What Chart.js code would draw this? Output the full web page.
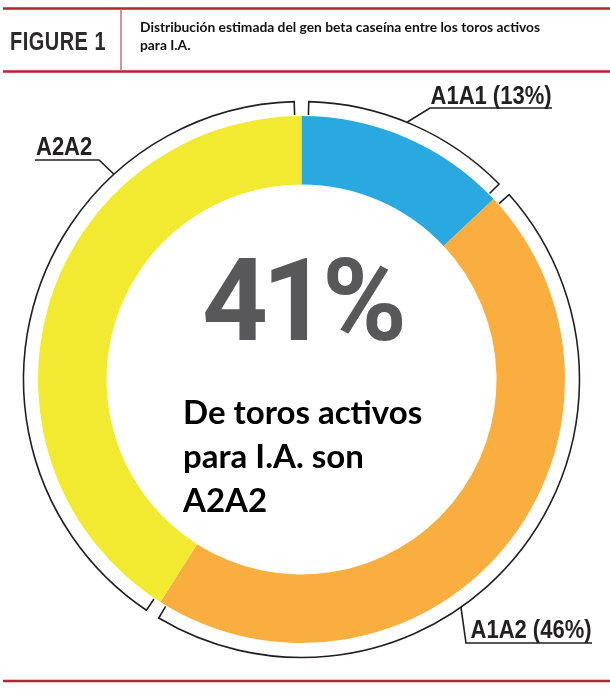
<!DOCTYPE html>
<html>
<head>
<meta charset="utf-8">
<script src="https://cdn.jsdelivr.net/npm/chart.js@4/dist/chart.umd.min.js"></script>
<style>
  html, body { margin:0; padding:0; background:#fff; }
  #wrap { position:relative; width:610px; height:690px; overflow:hidden; background:#fff; }
  #c { position:absolute; left:0; top:0; }
  .t { position:absolute; white-space:nowrap; }
  .lbl { font-family:'Liberation Sans',Arial,sans-serif; font-weight:700; font-size:25px; line-height:25px; color:#231f20; transform:scaleX(0.88); }
  #fig { left:10px; top:29px; font-family:'Liberation Sans',Arial,sans-serif; font-weight:700; font-size:25px; line-height:25px; color:#2d2a2b; transform:scaleX(0.8); transform-origin:left center; letter-spacing:0.6px; }
  #title { left:140px; top:18px; font-family:Lato,'Open Sans',sans-serif; font-weight:700; font-size:13.8px; line-height:18px; color:#111; white-space:normal; width:440px; }
  #big { left:0; width:603px; text-align:center; top:243px; font-family:Roboto,'Open Sans',sans-serif; font-weight:700; font-size:115px; line-height:115px; color:#58585a; letter-spacing:-6px; }
  #sub { left:183px; top:389px; font-family:Lato,'Open Sans',sans-serif; font-weight:700; font-size:33px; line-height:44px; color:#000; white-space:normal; width:300px; }
</style>
</head>
<body>
<div id="wrap">
  <canvas id="c" width="610" height="690"></canvas>
  <div class="t" id="fig">FIGURE 1</div>
  <div class="t" id="title">Distribución estimada del gen beta caseína entre los toros activos<br>para I.A.</div>
  <div class="t" id="big">41%</div>
  <div class="t" id="sub">De toros activos<br>para I.A. son<br>A2A2</div>
  <div class="t lbl" id="l0" style="right:58px; top:83px; transform-origin:right center;"></div>
  <div class="t lbl" id="l1" style="right:18px; top:617px; transform-origin:right center;"></div>
  <div class="t lbl" id="l2" style="left:36px; top:134px; transform-origin:left center;"></div>
</div>
<script>
// ---- data ----
const categories = ['A1A1', 'A1A2', 'A2A2'];
const shares = [13, 46, 41];
const labelTexts = ['A1A1 (13%)', 'A1A2 (46%)', 'A2A2'];
const segmentColors = ['#29a9e0', '#fbae40', '#f2ea30'];

// leader geometry (angles in degrees clockwise from top, where the leader leaves the bracket)
const leaderAngles = [22.3, 145, 317.6];
const leaderElbows = [[430, 108], [466, 643], [99, 160]];
const leaderEnds = [[552, 108], [592, 643], [35, 160]];

labelTexts.forEach((t, i) => { document.getElementById('l' + i).textContent = t; });

const frame = {
  id: 'frame',
  beforeDraw(chart) {
    const ctx = chart.ctx;
    ctx.save();
    ctx.fillStyle = '#ffffff';
    ctx.fillRect(0, 0, chart.width, chart.height);
    ctx.strokeStyle = '#b3262e';
    ctx.lineWidth = 2.5;
    ctx.beginPath();
    ctx.moveTo(3, 8.5); ctx.lineTo(610, 8.5);
    ctx.moveTo(3, 71.5); ctx.lineTo(610, 71.5);
    ctx.moveTo(3, 681); ctx.lineTo(610, 681);
    ctx.stroke();
    ctx.strokeStyle = '#c8707a';
    ctx.lineWidth = 1.5;
    ctx.beginPath();
    ctx.moveTo(121, 9); ctx.lineTo(121, 71);
    ctx.stroke();
    ctx.restore();
  }
};

const brackets = {
  id: 'brackets',
  afterDatasetsDraw(chart) {
    const ctx = chart.ctx;
    const meta = chart.getDatasetMeta(0);
    const gap = 1.5 * Math.PI / 180;
    ctx.save();
    ctx.strokeStyle = '#231f20';
    ctx.lineWidth = 1.6;
    ctx.lineJoin = 'miter';
    meta.data.forEach((arc, i) => {
      const p = arc.getProps(['x', 'y', 'startAngle', 'endAngle', 'outerRadius'], true);
      const rB = p.outerRadius + 14.5;
      const rT = p.outerRadius + 1;
      const a0 = p.startAngle + gap, a1 = p.endAngle - gap;
      ctx.beginPath();
      ctx.moveTo(p.x + rT * Math.cos(a0), p.y + rT * Math.sin(a0));
      ctx.lineTo(p.x + rB * Math.cos(a0), p.y + rB * Math.sin(a0));
      ctx.arc(p.x, p.y, rB, a0, a1, false);
      ctx.lineTo(p.x + rT * Math.cos(a1), p.y + rT * Math.sin(a1));
      ctx.stroke();
      // leader
      const th = leaderAngles[i] * Math.PI / 180;
      const sx = p.x + rB * Math.sin(th), sy = p.y - rB * Math.cos(th);
      ctx.beginPath();
      ctx.moveTo(sx, sy);
      ctx.lineTo(leaderElbows[i][0], leaderElbows[i][1]);
      ctx.lineTo(leaderEnds[i][0], leaderEnds[i][1]);
      ctx.stroke();
    });
    ctx.restore();
  }
};

new Chart(document.getElementById('c'), {
  type: 'doughnut',
  data: {
    labels: categories,
    datasets: [{ data: shares, backgroundColor: segmentColors, borderWidth: 0 }]
  },
  options: {
    responsive: false,
    animation: false,
    cutout: '74%',
    layout: { padding: { left: 38, right: 45, top: 116, bottom: 47 } },
    plugins: { legend: { display: false }, tooltip: { enabled: false } }
  },
  plugins: [frame, brackets]
});
</script>
</body>
</html>
